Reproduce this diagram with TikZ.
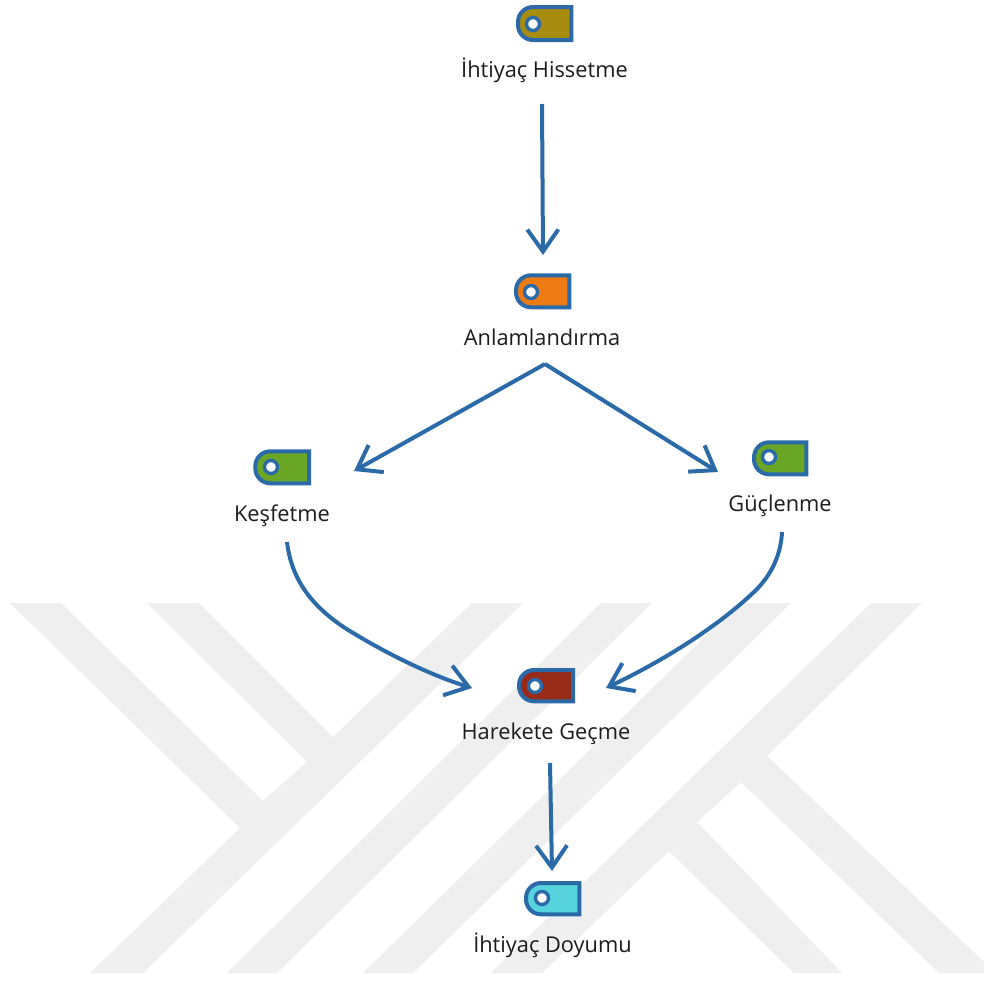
\documentclass[tikz,border=0pt]{standalone}
\usepackage{fontspec}
\setmainfont{Open Sans}
\usetikzlibrary{arrows.meta}
\definecolor{wm}{HTML}{EFEFEF}
\definecolor{lineblue}{HTML}{2A6AA8}
\definecolor{txt}{HTML}{1C1C1C}
\definecolor{cgold}{HTML}{A88C10}
\definecolor{corange}{HTML}{EE7A12}
\definecolor{cgreen}{HTML}{6BA525}
\definecolor{cred}{HTML}{982B18}
\definecolor{ccyan}{HTML}{57D3DD}
\tikzset{
  wmark/.style={fill=wm,draw=none},
  conn/.style={draw=lineblue,line width=4pt,-{Straight Barb[length=22pt,width=31pt,line width=4pt]}},
  iconbody/.style={draw=lineblue,line width=4pt,miter limit=4},
  hole/.style={circle,draw=lineblue,fill=white,line width=3.4pt,minimum size=13pt,inner sep=0pt},
  lab/.style={anchor=base,text=txt,font=\fontsize{21.8}{26}\selectfont,inner sep=0pt},
}
% name, left, top, right, bottom, hole x, hole y, colour
\newcommand{\tagicon}[8]{%
  \path[iconbody,fill=#8] (#4,#3) [rounded corners=15pt] -- (#2,#3) -- (#2,#5) [sharp corners] -- (#4,#5) -- cycle;
  \node[hole] (#1) at (#6,#7) {};
}
\begin{document}
\begin{tikzpicture}[x=1pt,y=-1pt]
\useasboundingbox (0,0) rectangle (984,983);
\fill[white] (0,0) rectangle (984,983);
% watermark
\path[wmark] (10,603) -- (61,603) -- (263,801) -- (307,762) -- (147,603) -- (199,603) -- (333,737) -- (472,603) -- (523,603) -- (143,973) -- (90,973) -- (240,828) -- cycle;
\path[wmark] (601,603) -- (652,603) -- (277,973) -- (227,973) -- cycle;
\path[wmark] (739,603) -- (791,603) -- (413,973) -- (363,973) -- cycle;
\path[wmark] (871,603) -- (922,603) -- (767,756) -- (984,962) -- (984,973) -- (939,973) -- (741,782) -- (697,822) -- (842,973) -- (794,973) -- (669,851) -- (542,973) -- (491,973) -- cycle;
% icons
\tagicon{i1}{518}{7}{571.3}{40}{533}{24}{cgold}
\tagicon{i2}{516}{275.3}{569.3}{307.3}{531}{292}{corange}
\tagicon{i3}{255.3}{451.3}{309}{483.3}{271}{467}{cgreen}
\tagicon{i4}{754}{442.3}{806.3}{474.3}{769}{457}{cgreen}
\tagicon{i5}{519}{670}{573}{701.3}{535}{686}{cred}
\tagicon{i6}{526}{883}{579.3}{914.3}{542}{898}{ccyan}
% labels
\node[lab] (l1) at (544.5,77) {İhtiyaç Hissetme};
\node[lab] (l2) at (542,345) {Anlamlandırma};
\node[lab] (l3) at (282,521) {Keşfetme};
\node[lab] (l4) at (780,511) {Güçlenme};
\node[lab] (l5) at (546,739) {Harekete Geçme};
\node[lab] (l6) at (552.5,952) {İhtiyaç Doyumu};
% connector ends
\coordinate (s1) at (542,104);
\coordinate (e1) at (543,255);
\coordinate (s2) at (545,364);
\coordinate (e3) at (354,471);
\coordinate (e4) at (718,472);
\coordinate (s3) at (287,542);
\coordinate (m3) at (345,628);
\coordinate (e5a) at (472,688);
\coordinate (s4) at (782,532);
\coordinate (m4) at (756,590);
\coordinate (e5b) at (606,688);
\coordinate (s5) at (550,763);
\coordinate (e6) at (552,871);
% connectors
\draw[conn] (s1) -- (e1);
\draw[conn] (s2) -- (e3);
\draw[conn] (s2) -- (e4);
\draw[conn] (s3) .. controls (292,585) and (318,610) .. (m3) .. controls (385,653) and (430,675) .. (e5a);
\draw[conn] (s4) .. controls (781,555) and (771,575) .. (m4) .. controls (720,625) and (665,660) .. (e5b);
\draw[conn] (s5) -- (e6);
\end{tikzpicture}
\end{document}
